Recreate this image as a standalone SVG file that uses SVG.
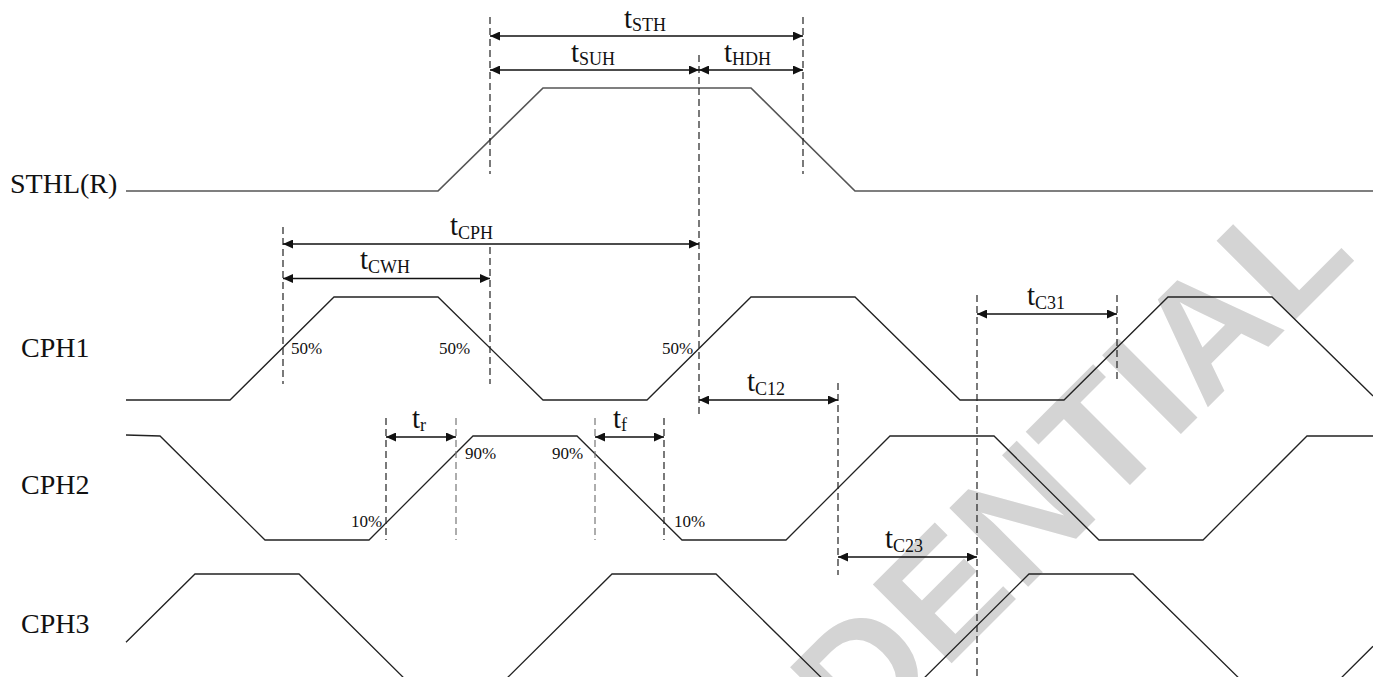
<svg xmlns="http://www.w3.org/2000/svg" width="1373" height="677" viewBox="0 0 1373 677">
<style>
.wave{fill:none;stroke:#222;stroke-width:1.3}
.dash{fill:none;stroke:#222;stroke-width:1.2;stroke-dasharray:7,4}
.dashg{fill:none;stroke:#777;stroke-width:1.2;stroke-dasharray:7,4}
.arr{fill:none;stroke:#111;stroke-width:1.3;marker-start:url(#ah);marker-end:url(#ah)}
.lbl{font-family:"Liberation Serif","Times New Roman",serif;fill:#111}
.sig{font-size:28px}
.t{font-size:29px}
.sub{font-size:18px}
.pct{font-size:17px}
.wm{font-family:"Liberation Sans",Arial,sans-serif;font-weight:bold;font-size:162px;fill:#d4d4d4}
</style>
<defs>
<marker id="ah" markerUnits="userSpaceOnUse" markerWidth="11" markerHeight="9" refX="10" refY="4.5" orient="auto-start-reverse">
<path d="M0,0 L10,4.5 L0,9 z" fill="#111"/>
</marker>
</defs>
<rect width="1373" height="677" fill="#fff"/>
<g id="watermark">
<text class="wm" x="505" y="1110" transform="rotate(-45 505 1110)">CONFIDENTIAL</text>
</g>
<g id="STHL">
<text class="lbl sig" x="10" y="193">STHL(R)</text>
<path class="wave" style="stroke:#555;stroke-width:1.7" d="M126,191 H438 L543,88 H751 L855,191 H1373"/>
</g>
<g id="CPH1">
<text class="lbl sig" x="21" y="357">CPH1</text>
<path class="wave" d="M126,400 H230 L334,297 H438 L543,400 H647 L751,297 H855 L960,400 H1064 L1168,297 H1272 L1373,396"/>
<text class="lbl pct" x="291" y="354">50%</text>
<text class="lbl pct" x="439" y="354">50%</text>
<text class="lbl pct" x="662" y="354">50%</text>
</g>
<g id="CPH2">
<text class="lbl sig" x="21" y="494">CPH2</text>
<path class="wave" d="M126,435 L160,436 L265,540 H369 L473,436 H577 L682,540 H786 L890,436 H994 L1099,540 H1203 L1307,436 H1373"/>
<text class="lbl pct" x="465" y="459">90%</text>
<text class="lbl pct" x="552" y="459">90%</text>
<text class="lbl pct" x="351" y="527">10%</text>
<text class="lbl pct" x="674" y="527">10%</text>
</g>
<g id="CPH3">
<text class="lbl sig" x="21" y="633">CPH3</text>
<path class="wave" d="M126,642.3 L195,574 H299 L416,690 M495,690 L612,574 H716 L834,690 M912,690 L1029,574 H1133 L1251,690 M1329,690 L1373,646.3"/>
</g>
<g id="connectors">
<path class="dash" d="M490,17 V174 M803,17 V174 M699,55 V417 M283,227 V384 M490,247 V384 M386,418 V540 M664,418 V540 M838,383 V575 M977,295 V677 M1117,295 V383"/>
<path class="dashg" d="M456,418 V540 M595,418 V540"/>
<line class="arr" x1="490" y1="36" x2="803" y2="36"/>
<line class="arr" x1="490" y1="70" x2="699" y2="70"/>
<line class="arr" x1="699" y1="70" x2="803" y2="70"/>
<line class="arr" x1="283" y1="244" x2="699" y2="244"/>
<line class="arr" x1="283" y1="278.5" x2="490" y2="278.5"/>
<line class="arr" x1="977" y1="314" x2="1117" y2="314"/>
<line class="arr" x1="699" y1="400" x2="838" y2="400"/>
<line class="arr" x1="838" y1="557" x2="977" y2="557"/>
<line class="arr" x1="386" y1="437" x2="456" y2="437"/>
<line class="arr" x1="595" y1="437" x2="664" y2="437"/>
</g>
<g id="labels">
<text class="lbl t" x="624" y="28">t<tspan class="sub" dy="3">STH</tspan></text>
<text class="lbl t" x="571" y="62">t<tspan class="sub" dy="3">SUH</tspan></text>
<text class="lbl t" x="724" y="62">t<tspan class="sub" dy="3">HDH</tspan></text>
<text class="lbl t" x="450" y="235">t<tspan class="sub" dy="4">CPH</tspan></text>
<text class="lbl t" x="360" y="269">t<tspan class="sub" dy="4">CWH</tspan></text>
<text class="lbl t" x="1027" y="305">t<tspan class="sub" dy="4">C31</tspan></text>
<text class="lbl t" x="747" y="391">t<tspan class="sub" dy="4">C12</tspan></text>
<text class="lbl t" x="885" y="548">t<tspan class="sub" dy="4">C23</tspan></text>
<text class="lbl t" x="412" y="428">t<tspan class="sub" dy="3">r</tspan></text>
<text class="lbl t" x="613" y="428">t<tspan class="sub" dy="3">f</tspan></text>
</g>
</svg>
